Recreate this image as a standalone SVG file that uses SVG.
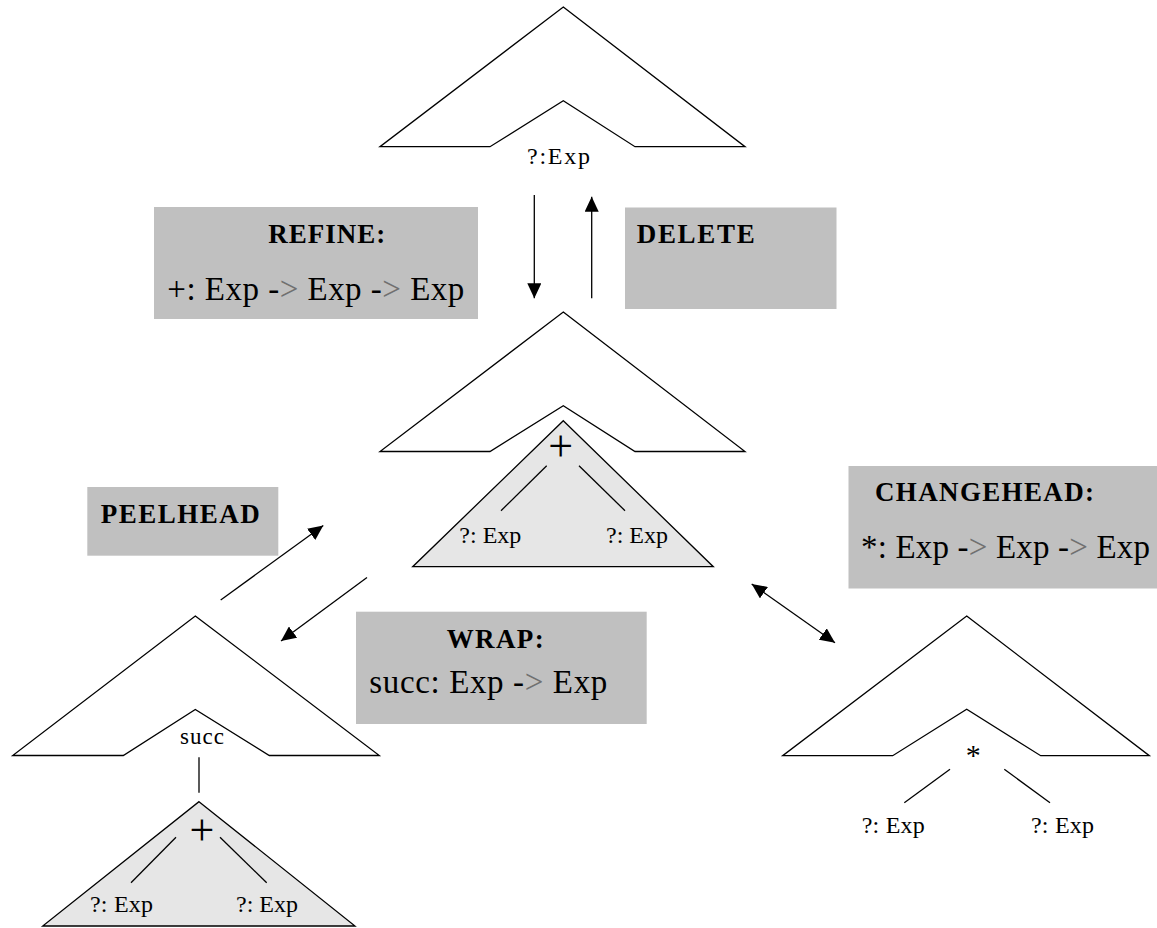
<svg xmlns="http://www.w3.org/2000/svg" width="1157" height="928" viewBox="0 0 1157 928">
<style>
text{font-family:"Liberation Serif","Times New Roman",serif;fill:#000}
.shape{fill:#fff;stroke:#000;stroke-width:1.3;stroke-linejoin:miter}
.sub{fill:#e6e6e6;stroke:#000;stroke-width:1.3}
.edge{stroke:#000;stroke-width:1.3;fill:none}
.box{fill:#c0c0c0}
.lab{font-size:24px}
.head{font-size:27px;font-weight:bold}
.sig{font-size:33px}
.arr{stroke:#000;stroke-width:1.3;fill:none}
.gt{fill:#707070}
</style>
<defs>
<marker id="ah" viewBox="0 0 15 14" refX="15" refY="7" markerWidth="15" markerHeight="14" markerUnits="userSpaceOnUse" orient="auto-start-reverse">
<path d="M0,0 L15,7 L0,14 z" fill="#000"/>
</marker>
</defs>
<rect width="1157" height="928" fill="#fff"/>

<g id="tree-top">
<path class="shape" d="M563.3,7 L745,146.7 L635,146.7 L563.3,100.7 L490,146.7 L380,146.7 Z"/>
<text class="lab" x="527" y="164" textLength="63" lengthAdjust="spacing">?:Exp</text>
</g>

<g id="box-refine">
<rect class="box" x="154" y="207" width="324" height="112"/>
<text class="head" x="268.3" y="243.3" textLength="117" lengthAdjust="spacing">REFINE:</text>
<text class="sig" x="167.3" y="300" textLength="297" lengthAdjust="spacing">+: Exp -<tspan class="gt">&gt;</tspan> Exp -<tspan class="gt">&gt;</tspan> Exp</text>
</g>

<g id="box-delete">
<rect class="box" x="625" y="207.5" width="211.5" height="101.5"/>
<text class="head" x="636.7" y="242.7" textLength="118" lengthAdjust="spacing">DELETE</text>
</g>

<g id="tree-middle">
<path class="shape" d="M563.3,312 L745,451.5 L635,451.5 L563.3,405.7 L490,451.5 L380,451.5 Z"/>
<path class="sub" d="M563.3,420.7 L713.3,566.7 L412.7,566.7 Z"/>
<text x="560.7" y="460.5" font-size="44" text-anchor="middle">+</text>
<line class="edge" x1="546.7" y1="465.7" x2="501" y2="510.7"/>
<line class="edge" x1="579" y1="465.7" x2="625" y2="510.7"/>
<text class="lab" x="459.3" y="542.7" textLength="62" lengthAdjust="spacing">?: Exp</text>
<text class="lab" x="606" y="542.7" textLength="62" lengthAdjust="spacing">?: Exp</text>
</g>

<g id="box-peelhead">
<rect class="box" x="87.3" y="487" width="191" height="68.7"/>
<text class="head" x="100.7" y="523.3" textLength="159" lengthAdjust="spacing">PEELHEAD</text>
</g>

<g id="box-changehead">
<rect class="box" x="848.5" y="466" width="308.5" height="122.5"/>
<text class="head" x="875" y="500.7" textLength="219" lengthAdjust="spacing">CHANGEHEAD:</text>
<text class="sig" x="861" y="558" textLength="289" lengthAdjust="spacing">*: Exp -<tspan class="gt">&gt;</tspan> Exp -<tspan class="gt">&gt;</tspan> Exp</text>
</g>

<g id="box-wrap">
<rect class="box" x="356" y="611.7" width="290.7" height="112.3"/>
<text class="head" x="446.7" y="648.3" textLength="97" lengthAdjust="spacing">WRAP:</text>
<text class="sig" x="369.3" y="692.7" textLength="238" lengthAdjust="spacing">succ: Exp -<tspan class="gt">&gt;</tspan>  Exp</text>
</g>

<g id="tree-wrapped">
<path class="shape" d="M195.3,616 L379.3,755.5 L269.3,755.5 L195.3,709.5 L123.3,755.5 L12.7,755.5 Z"/>
<text x="180" y="744" font-size="23" textLength="44" lengthAdjust="spacing">succ</text>
<line class="edge" x1="199" y1="757.3" x2="199" y2="792.7"/>
<path class="sub" d="M199,801.7 L355,926 L42.7,926 Z"/>
<text x="202" y="844.5" font-size="44" text-anchor="middle">+</text>
<line class="edge" x1="176" y1="837.3" x2="131" y2="882.7"/>
<line class="edge" x1="220" y1="837.3" x2="266.7" y2="882.7"/>
<text class="lab" x="90" y="911.7" textLength="63" lengthAdjust="spacing">?: Exp</text>
<text class="lab" x="236" y="911.7" textLength="62" lengthAdjust="spacing">?: Exp</text>
</g>

<g id="tree-changed">
<path class="shape" d="M966.7,616 L1149.3,755.7 L1040.7,755.7 L966.7,709.3 L892.7,755.7 L782.7,755.7 Z"/>
<text x="973.3" y="765" font-size="30" text-anchor="middle">*</text>
<line class="edge" x1="950" y1="769.3" x2="904.3" y2="802.7"/>
<line class="edge" x1="1004.3" y1="769.3" x2="1050" y2="802.7"/>
<text class="lab" x="861.7" y="833.3" textLength="63" lengthAdjust="spacing">?: Exp</text>
<text class="lab" x="1031" y="833.3" textLength="63" lengthAdjust="spacing">?: Exp</text>
</g>

<g id="connectors">
<line class="arr" x1="534.3" y1="195" x2="534.3" y2="298.3" marker-end="url(#ah)"/>
<line class="arr" x1="591.7" y1="298.3" x2="591.7" y2="196.7" marker-end="url(#ah)"/>
<line class="arr" x1="220.7" y1="600" x2="323.3" y2="525.5" marker-end="url(#ah)"/>
<line class="arr" x1="367" y1="577.5" x2="281" y2="641" marker-end="url(#ah)"/>
<line class="arr" x1="751.7" y1="584" x2="835" y2="642.7" marker-start="url(#ah)" marker-end="url(#ah)"/>
</g>
</svg>
